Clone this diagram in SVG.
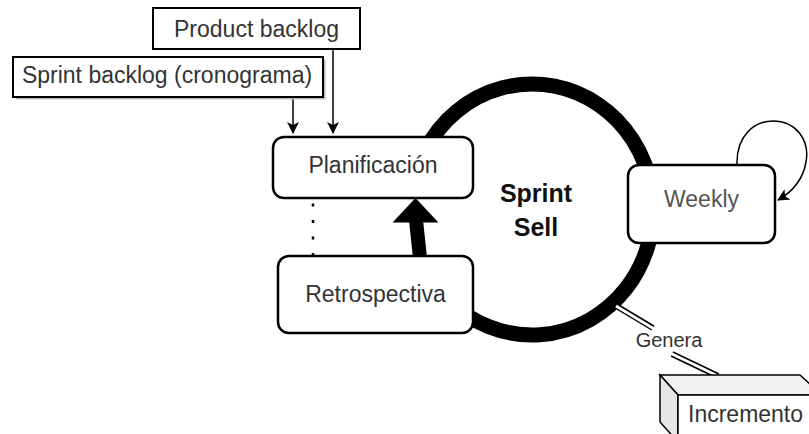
<svg xmlns="http://www.w3.org/2000/svg" width="809" height="434" viewBox="0 0 809 434">
  <defs>
    <style>
      .box { fill: #ffffff; stroke: #000000; stroke-width: 2; }
      .rbox { fill: #ffffff; stroke: #000000; stroke-width: 2.5; }
      .lbl { font-family: "Liberation Sans", Arial, sans-serif; font-size: 23px; fill: #333333; text-anchor: middle; }
      .title { font-family: "Liberation Sans", Arial, sans-serif; font-size: 25px; font-weight: bold; fill: #111111; text-anchor: middle; }
      .thin { fill: none; stroke: #000000; stroke-width: 1.5; }
    </style>
    <marker id="arrowHead" viewBox="0 0 12 12" refX="11" refY="6" markerWidth="12" markerHeight="12" markerUnits="userSpaceOnUse" orient="auto">
      <path d="M0,0 L12,6 L0,12 L3,6 Z" fill="#000000"/>
    </marker>
  </defs>

  <!-- connectors -->
  <g id="connectors">
    <!-- sprint cycle ring -->
    <path d="M425.5,150 A121,125.5 0 1 1 448.2,300" fill="none" stroke="#000000" stroke-width="15"/>
    <!-- retrospective back to planning -->
    <path d="M420,258 L416,220" fill="none" stroke="#000000" stroke-width="14"/>
    <polygon points="415.5,198 392.5,222.5 438.5,222.5" fill="#000000"/>
    <!-- backlogs into planning -->
    <path class="thin" d="M293,97 V133" marker-end="url(#arrowHead)"/>
    <path class="thin" d="M333,49 V133" marker-end="url(#arrowHead)"/>
    <!-- dotted link planning / retrospective -->
    <path d="M313,203.5 V257" fill="none" stroke="#000000" stroke-width="2.5" stroke-dasharray="3 13.5"/>
    <!-- weekly self loop -->
    <path class="thin" d="M737,165 C736,135 755,121 773,121 C796,121 810,140 806,162 C803,180 792,192 778,200" marker-end="url(#arrowHead)"/>
    <!-- genera link -->
    <g fill="none">
      <path d="M618,307 L653,328" stroke="#000000" stroke-width="6"/>
      <path d="M616,306 L655,329.5" stroke="#ffffff" stroke-width="2.8"/>
      <path d="M672,354 L718,376" stroke="#000000" stroke-width="6"/>
      <path d="M670,353 L720,377" stroke="#ffffff" stroke-width="2.8"/>
    </g>
    <text x="669" y="347" class="lbl" style="font-size:20px">Genera</text>
  </g>

  <g id="product-backlog">
    <rect class="box" x="153" y="8" width="207" height="41"/>
    <text x="256.5" y="37" class="lbl">Product backlog</text>
  </g>

  <g id="sprint-backlog">
    <rect x="15.5" y="59.5" width="310" height="40" fill="#bdbdbd"/>
    <rect class="box" x="13" y="57" width="310" height="40"/>
    <text x="167" y="83" class="lbl">Sprint backlog (cronograma)</text>
  </g>

  <g id="planificacion">
    <rect class="rbox" x="273" y="137" width="200" height="61" rx="11" ry="11"/>
    <text x="373" y="173" class="lbl">Planificación</text>
  </g>

  <g id="retrospectiva">
    <rect class="rbox" x="278" y="256" width="195" height="77" rx="11" ry="11"/>
    <text x="375.5" y="302" class="lbl">Retrospectiva</text>
  </g>

  <g id="sprint-sell">
    <text x="536" y="202" class="title">Sprint</text>
    <text x="536" y="236" class="title">Sell</text>
  </g>

  <g id="weekly">
    <rect class="rbox" x="628" y="165" width="147" height="78" rx="11" ry="11"/>
    <text x="701.5" y="207" class="lbl" style="fill:#555555">Weekly</text>
  </g>

  <g id="incremento">
    <polygon points="660,375 800,375 822,395 678,395" fill="#f2f2f2" stroke="#000000" stroke-width="1.5"/>
    <polygon points="660,375 678,395 678,442 660,422" fill="#e6e6e6" stroke="#000000" stroke-width="1.5"/>
    <rect x="678" y="395" width="150" height="50" fill="#ffffff" stroke="#000000" stroke-width="1.5"/>
    <text x="688" y="422" class="lbl" style="text-anchor:start">Incremento</text>
  </g>
</svg>
